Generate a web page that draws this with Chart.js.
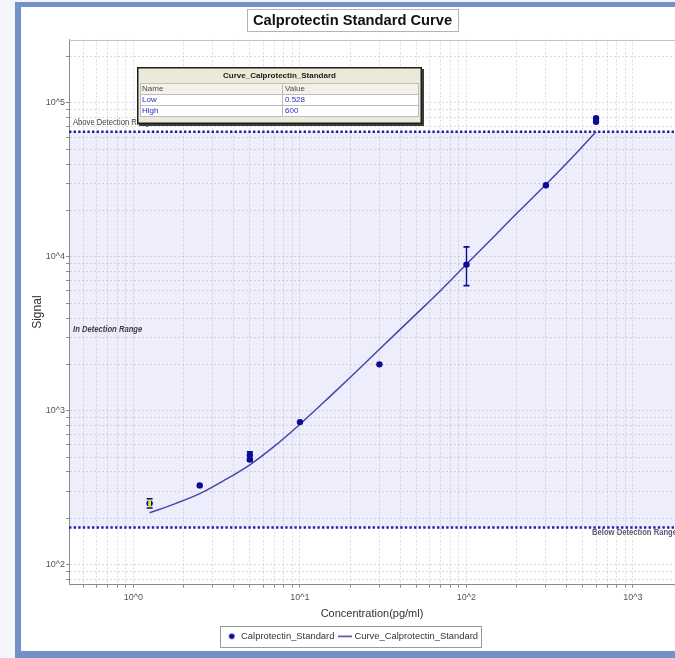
<!DOCTYPE html>
<html>
<head>
<meta charset="utf-8">
<script src="https://cdn.jsdelivr.net/npm/chart.js@4.4.1/dist/chart.umd.min.js"></script>
<style>
  html, body { margin: 0; padding: 0; width: 675px; height: 658px; overflow: hidden; background: #F3F6FB; }
  #frame { position: absolute; left: 15px; top: 2px; width: 700px; height: 644px; background: #ffffff;
           border-left: 6px solid #7391C9; border-top: 5px solid #7391C9; border-bottom: 7px solid #7391C9; }
  #c { position: absolute; left: 0; top: 0; }
</style>
</head>
<body>
<div id="frame"></div>
<canvas id="c" width="675" height="658"></canvas>
<script>
const FONT = "'Liberation Sans', Arial, Helvetica, sans-serif";

// Standards: concentration (pg/ml) and measured signal, one entry per replicate
const standardConc   = [1.25, 2.5, 5,   5,   10,  30,   100,  300,   600,   600];
const standardSignal = [250,  327, 515, 482, 843, 2000, 8900, 29200, 79500, 75500];

// Replicate spread shown as error bars
const errorConc  = [1.25, 5,   100];
const errorLow   = [233,  470, 6500];
const errorHigh  = [268,  540, 11600];
const flaggedConc = [1.25];

// Fitted standard curve
const curveConc   = [1.25, 1.8, 2.5, 3.5, 5,   7,   10,  15,   20,   30,   50,   70,   100,  150,   200,   300,   450,   600];
const curveSignal = [217,  250, 289, 352, 445, 586, 817, 1225, 1644, 2506, 4255, 6040, 8940, 13930, 19100, 29500, 46400, 65000];

// Detection range of the curve
const limitNames  = ['Low', 'High'];
const limitValues = ['0.528', '600'];
const limitSignal = [174, 65000];

// Axis tick labels
const xTickValues = [1, 10, 100, 1000];
const xTickLabels = ['10^0', '10^1', '10^2', '10^3'];
const yTickValues = [100, 1000, 10000, 100000];
const yTickLabels = ['10^2', '10^3', '10^4', '10^5'];

const X_MIN = 0.41, X_MAX = 1788;
const Y_MIN = 74.1, Y_MAX = 257800;

const NAVY = '#0B0B96';
const CURVE = '#4646AE';

function logTicks(min, max) {
  const out = [];
  for (let e = Math.floor(Math.log10(min)); e <= Math.ceil(Math.log10(max)); e++) {
    for (let m = 1; m <= 9; m++) {
      const v = m * Math.pow(10, e);
      if (v >= min && v <= max) out.push({ value: v, major: m === 1 });
    }
  }
  return out;
}
function labelFor(values, labels) {
  return function (value) {
    const i = values.findIndex(v => Math.abs(v - value) < v * 1e-9);
    return i >= 0 ? labels[i] : '';
  };
}

function markerCanvas(w, h, draw) {
  const c = document.createElement('canvas');
  c.width = w; c.height = h;
  draw(c.getContext('2d'));
  return c;
}
const dotMarker = markerCanvas(8, 8, g => {
  g.fillStyle = NAVY; g.beginPath(); g.arc(4, 4, 2.8, 0, Math.PI * 2); g.fill();
});
const lineMarker = markerCanvas(14, 3, g => {
  g.strokeStyle = CURVE; g.lineWidth = 1.6; g.beginPath(); g.moveTo(0, 1.5); g.lineTo(14, 1.5); g.stroke();
});

function drawErrorBar(ctx, x, y, i, flagged) {
  const px = x.getPixelForValue(errorConc[i]);
  const p1 = y.getPixelForValue(errorHigh[i]);
  const p2 = y.getPixelForValue(errorLow[i]);
  ctx.strokeStyle = flagged ? '#E8E41C' : NAVY;
  ctx.lineWidth = flagged ? 2.8 : 1.4;
  ctx.beginPath(); ctx.moveTo(px, p1); ctx.lineTo(px, p2); ctx.stroke();
  ctx.strokeStyle = NAVY;
  ctx.lineWidth = 1.6;
  ctx.beginPath();
  ctx.moveTo(px - 3, p1); ctx.lineTo(px + 3, p1);
  ctx.moveTo(px - 3, p2); ctx.lineTo(px + 3, p2);
  ctx.stroke();
}

// narrow label text: 9px glyph height, condensed horizontally
function narrowText(ctx, text, px, py, font, color) {
  ctx.save();
  ctx.font = font;
  ctx.fillStyle = color;
  ctx.translate(px, py);
  ctx.scale(0.85, 1);
  ctx.fillText(text, 0, 0);
  ctx.restore();
}

// Shaded detection band, title frame, legend frame, limit lines, error bars, limits table
const framePlugin = {
  id: 'frames',
  beforeDraw(chart) {
    const { ctx, chartArea: a, scales: { y } } = chart;
    const yHi = y.getPixelForValue(limitSignal[1]);
    const yLo = y.getPixelForValue(limitSignal[0]);
    ctx.save();
    ctx.fillStyle = 'rgb(237,237,252)';
    ctx.fillRect(a.left, yHi, a.right - a.left, yLo - yHi);

    // title box
    const tb = chart.titleBlock;
    const tOpts = chart.options.plugins.title;
    ctx.font = 'bold ' + tOpts.font.size + 'px ' + FONT;
    const tw = ctx.measureText(tOpts.text).width;
    const cx = (tb.left + tb.right) / 2;
    const bx = Math.round(cx - tw / 2 - 6) + 0.5;
    ctx.fillStyle = '#ffffff';
    ctx.strokeStyle = '#B4B4B4';
    ctx.lineWidth = 1;
    ctx.fillRect(bx, 9.5, Math.round(tw + 12), 22);
    ctx.strokeRect(bx, 9.5, Math.round(tw + 12), 22);

    // legend box
    const hb = chart.legend.legendHitBoxes;
    if (hb && hb.length) {
      const last = hb[hb.length - 1];
      const l = Math.round(hb[0].left - 7) + 0.5;
      const r = Math.round(last.left + last.width + 3) + 0.5;
      const t = Math.round(hb[0].top - 6) + 0.5;
      const b = Math.round(hb[0].top + hb[0].height + 6) + 0.5;
      ctx.fillStyle = '#ffffff';
      ctx.strokeStyle = '#9A9A9A';
      ctx.fillRect(l, t, r - l, b - t);
      ctx.strokeRect(l, t, r - l, b - t);
    }
    ctx.restore();
  },
  beforeDatasetsDraw(chart) {
    const { ctx, chartArea: a, scales: { x, y } } = chart;
    const yHi = y.getPixelForValue(limitSignal[1]);
    const yLo = y.getPixelForValue(limitSignal[0]);
    ctx.save();
    // plot top border
    ctx.strokeStyle = '#C4C4C4';
    ctx.lineWidth = 1;
    ctx.beginPath(); ctx.moveTo(a.left, Math.round(a.top) + 0.5); ctx.lineTo(a.right, Math.round(a.top) + 0.5); ctx.stroke();

    // detection limit lines
    ctx.strokeStyle = '#2222A6';
    ctx.lineWidth = 2.6;
    ctx.setLineDash([2.4, 2.2]);
    [yHi, yLo].forEach(py => {
      ctx.beginPath(); ctx.moveTo(a.left, py); ctx.lineTo(a.right, py); ctx.stroke();
    });
    ctx.setLineDash([]);

    // range labels
    ctx.textBaseline = 'middle';
    ctx.textAlign = 'left';
    narrowText(ctx, 'Above Detection Range', a.left + 4, yHi - 9, '9px ' + FONT, '#3C3C3C');
    narrowText(ctx, 'In Detection Range', a.left + 4, (yHi + yLo) / 2, 'italic bold 9px ' + FONT, '#404040');
    narrowText(ctx, 'Below Detection Range', a.right - 83, yLo + 5, 'bold 9px ' + FONT, '#5A5A6E');

    errorConc.forEach((c, i) => {
      if (!flaggedConc.includes(c)) drawErrorBar(ctx, x, y, i, false);
    });
    ctx.restore();
  },
  afterDatasetsDraw(chart) {
    const { ctx, scales: { x, y } } = chart;
    ctx.save();
    errorConc.forEach((c, i) => {
      if (flaggedConc.includes(c)) drawErrorBar(ctx, x, y, i, true);
    });
    ctx.restore();
  },
  afterDraw(chart) {
    const { ctx, chartArea: a } = chart;
    const tx = Math.round(a.left) + 68, ty = Math.round(a.top) + 27;
    const W = 285, H = 57;
    ctx.save();
    // shadow + frame
    ctx.fillStyle = '#3A3A3A';
    ctx.fillRect(tx + 2, ty + 2, W, H);
    ctx.fillStyle = '#ECE9D8';
    ctx.fillRect(tx, ty, W, H);
    ctx.strokeStyle = '#1E1E1E';
    ctx.lineWidth = 1.5;
    ctx.strokeRect(tx + 0.75, ty + 0.75, W - 1.5, H - 1.5);

    ctx.textBaseline = 'middle';
    ctx.textAlign = 'center';
    ctx.fillStyle = '#1A1A1A';
    ctx.font = 'bold 8px ' + FONT;
    ctx.fillText('Curve_Calprotectin_Standard', tx + W / 2, ty + 9);

    const gx = tx + 3, gw = W - 6, col = tx + 145;
    const rowTop = ty + 16, rowH = 11;
    ctx.fillStyle = '#F3F1EA';
    ctx.fillRect(gx, rowTop, gw, rowH);
    ctx.fillStyle = '#ffffff';
    ctx.fillRect(gx, rowTop + rowH, gw, rowH * 2);
    ctx.strokeStyle = '#BDBDBD';
    ctx.lineWidth = 1;
    ctx.strokeRect(gx + 0.5, rowTop + 0.5, gw - 1, rowH * 3);
    ctx.beginPath();
    for (let r = 1; r < 3; r++) {
      ctx.moveTo(gx, rowTop + rowH * r + 0.5); ctx.lineTo(gx + gw, rowTop + rowH * r + 0.5);
    }
    ctx.moveTo(col + 0.5, rowTop); ctx.lineTo(col + 0.5, rowTop + rowH * 3);
    ctx.stroke();

    ctx.textAlign = 'left';
    ctx.font = '8px ' + FONT;
    ctx.fillStyle = '#4A4A4A';
    ctx.fillText('Name', gx + 2, rowTop + rowH / 2 + 0.5);
    ctx.fillText('Value', col + 3, rowTop + rowH / 2 + 0.5);
    ctx.fillStyle = '#2B2BC0';
    limitNames.forEach((n, i) => {
      const cy = rowTop + rowH * (i + 1) + rowH / 2 + 0.5;
      ctx.fillText(n, gx + 2, cy);
      ctx.fillText(limitValues[i], col + 3, cy);
    });
    ctx.restore();
  }
};

const chart = new Chart(document.getElementById('c'), {
  type: 'scatter',
  data: {
    datasets: [
      {
        label: 'Calprotectin_Standard',
        data: standardConc.map((c, i) => ({ x: c, y: standardSignal[i] })),
        backgroundColor: NAVY,
        borderColor: NAVY,
        pointRadius: 3.2,
        pointHoverRadius: 3.2,
        pointBorderWidth: 0,
        order: 1
      },
      {
        type: 'line',
        label: 'Curve_Calprotectin_Standard',
        data: curveConc.map((c, i) => ({ x: c, y: curveSignal[i] })),
        borderColor: CURVE,
        backgroundColor: CURVE,
        borderWidth: 1.5,
        pointRadius: 0,
        pointHoverRadius: 0,
        showLine: true,
        fill: false,
        cubicInterpolationMode: 'monotone',
        order: 2
      }
    ]
  },
  options: {
    responsive: false,
    animation: false,
    devicePixelRatio: 1,
    layout: { autoPadding: false, padding: { left: 30, right: 0, top: 0, bottom: 7 } },
    scales: {
      x: {
        type: 'logarithmic',
        min: X_MIN, max: X_MAX,
        bounds: 'data',
        afterBuildTicks: s => { s.ticks = logTicks(X_MIN, X_MAX); },
        afterFit: s => { s.height = 41; s.paddingLeft = 0; s.paddingRight = 0; },
        ticks: {
          autoSkip: false, maxRotation: 0, minRotation: 0, padding: 5,
          color: '#555555', font: { family: FONT, size: 9 },
          callback: labelFor(xTickValues, xTickLabels)
        },
        grid: { color: 'rgba(150,150,150,0.32)', tickColor: '#8A8A8A', tickLength: 3, lineWidth: 1 },
        border: { display: true, color: '#8A8A8A', width: 1, dash: [2, 2] },
        title: { display: true, text: 'Concentration(pg/ml)', color: '#333333',
                 font: { family: FONT, size: 11 }, padding: { top: 0, bottom: 5 } }
      },
      y: {
        type: 'logarithmic',
        min: Y_MIN, max: Y_MAX,
        bounds: 'data',
        afterBuildTicks: s => { s.ticks = logTicks(Y_MIN, Y_MAX); },
        afterFit: s => { s.width = 39; s.paddingTop = 0; s.paddingBottom = 0; },
        ticks: {
          autoSkip: false, padding: 1,
          color: '#555555', font: { family: FONT, size: 9 },
          callback: labelFor(yTickValues, yTickLabels)
        },
        grid: { color: 'rgba(150,150,150,0.32)', tickColor: '#8A8A8A', tickLength: 3, lineWidth: 1 },
        border: { display: true, color: '#8A8A8A', width: 1, dash: [2, 2] },
        title: { display: true, text: 'Signal', color: '#333333',
                 font: { family: FONT, size: 12 }, padding: { top: 0, bottom: 0 } }
      }
    },
    plugins: {
      title: {
        display: true,
        text: 'Calprotectin Standard Curve',
        color: '#111111',
        font: { family: FONT, size: 14.7, weight: 'bold' },
        padding: { top: 12, bottom: 10 }
      },
      legend: {
        display: true,
        position: 'bottom',
        labels: {
          usePointStyle: true,
          boxWidth: 10, boxHeight: 10, padding: 6,
          color: '#333333',
          font: { family: FONT, size: 9.4 },
          generateLabels: ch => ch.data.datasets.map((ds, i) => ({
            text: ds.label,
            pointStyle: i === 0 ? dotMarker : lineMarker,
            fillStyle: 'transparent', strokeStyle: 'transparent', lineWidth: 0,
            fontColor: '#333333', hidden: false, datasetIndex: i
          }))
        }
      },
      tooltip: { enabled: false }
    }
  },
  plugins: [framePlugin]
});
</script>
</body>
</html>
